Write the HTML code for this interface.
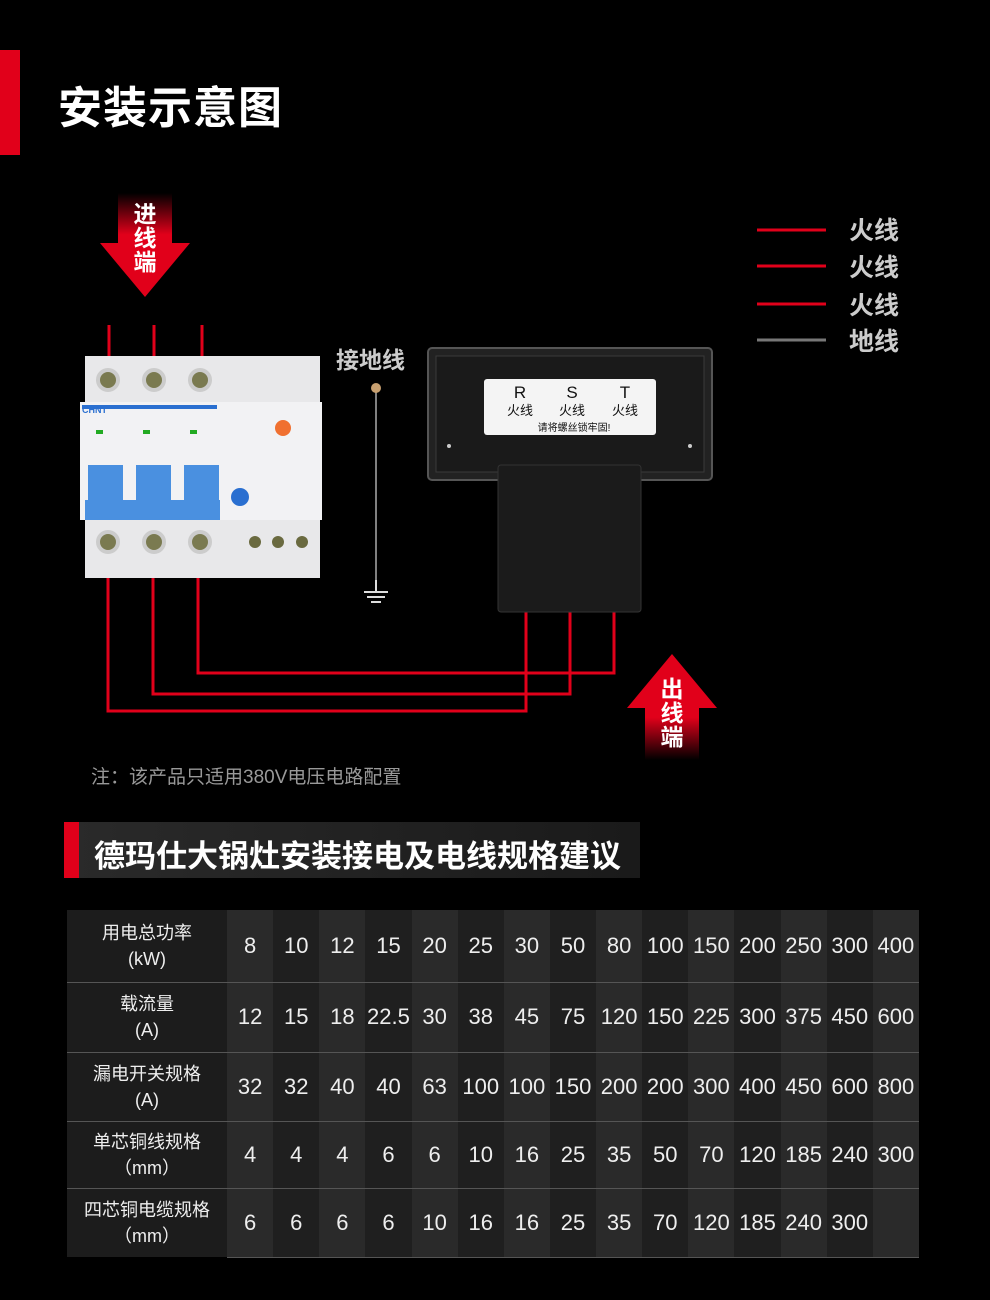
<!DOCTYPE html>
<html><head><meta charset="utf-8"><style>
body{margin:0;width:990px;height:1300px;background:#000;position:relative;overflow:hidden;font-family:"Liberation Sans","Noto Sans CJK SC",sans-serif;color:#fff}
.a{position:absolute}
table{border-collapse:collapse;position:absolute;left:67px;top:910px;width:852px;color:#eee;table-layout:fixed}
td{text-align:center;font-size:22px;padding:0;border-bottom:1px solid #555;white-space:nowrap;overflow:visible}
td.h{font-size:18px;line-height:26px;background:#1c1c1c}
td:nth-child(even){background:#2a2a2a}
td:nth-child(odd):not(.h){background:#1f1f1f}
</style></head><body>
<div class="a" style="left:0;top:50px;width:20px;height:105px;background:#e1001a"></div>
<div class="a" style="left:58px;top:72px;font-size:44px;font-weight:bold;letter-spacing:1px">安装示意图</div>

<svg class="a" style="left:0;top:0" width="990" height="800">
<defs><linearGradient id="g1" x1="0" y1="0" x2="0" y2="1"><stop offset="0" stop-color="#e1001a" stop-opacity="0"/><stop offset="0.4" stop-color="#e1001a"/></linearGradient>
<linearGradient id="g2" x1="0" y1="1" x2="0" y2="0"><stop offset="0" stop-color="#e1001a" stop-opacity="0"/><stop offset="0.4" stop-color="#e1001a"/></linearGradient></defs>
<polygon points="118,193 172,193 172,243 190,243 145,297 100,243 118,243" fill="url(#g1)"/>
<polygon points="645,760 699,760 699,708 717,708 672,654 627,708 645,708" fill="url(#g2)"/>
<g stroke="#e1001a" stroke-width="3" fill="none">
<line x1="109" y1="325" x2="109" y2="356"/><line x1="154" y1="325" x2="154" y2="356"/><line x1="202" y1="325" x2="202" y2="356"/>
<polyline points="108,565 108,711 526,711 526,612"/>
<polyline points="153,565 153,694 570,694 570,612"/>
<polyline points="198,565 198,673 614,673 614,612"/>
<line x1="757" y1="230" x2="826" y2="230"/><line x1="757" y1="266" x2="826" y2="266"/><line x1="757" y1="304" x2="826" y2="304"/>
</g>
<line x1="757" y1="340" x2="826" y2="340" stroke="#777" stroke-width="3"/>
<rect x="85" y="356" width="235" height="222" fill="#e8e8ea"/>
<rect x="80" y="402" width="242" height="118" fill="#f2f2f4"/>
<rect x="82" y="405" width="135" height="4" fill="#2a6fd0"/>
<text x="82" y="413" font-size="9" fill="#2a6fd0" font-weight="bold">CHNT</text>
<g fill="#4a90e0"><rect x="88" y="465" width="35" height="40"/><rect x="136" y="465" width="35" height="40"/><rect x="184" y="465" width="35" height="40"/><rect x="85" y="500" width="135" height="20"/></g>
<g fill="#7a7a50" stroke="#ccc" stroke-width="4"><circle cx="108" cy="380" r="10"/><circle cx="154" cy="380" r="10"/><circle cx="200" cy="380" r="10"/><circle cx="108" cy="542" r="10"/><circle cx="154" cy="542" r="10"/><circle cx="200" cy="542" r="10"/></g>
<g fill="#6a6a40"><circle cx="255" cy="542" r="6"/><circle cx="278" cy="542" r="6"/><circle cx="302" cy="542" r="6"/></g>
<circle cx="240" cy="497" r="9" fill="#2a6fd0"/><circle cx="283" cy="428" r="8" fill="#f07030"/>
<g fill="#2a2"><rect x="96" y="430" width="7" height="4"/><rect x="143" y="430" width="7" height="4"/><rect x="190" y="430" width="7" height="4"/></g>
<line x1="376" y1="388" x2="376" y2="580" stroke="#aaa" stroke-width="1.5"/>
<circle cx="376" cy="388" r="5" fill="#c8a070"/>
<g stroke="#ddd" stroke-width="2"><line x1="364" y1="592" x2="388" y2="592"/><line x1="367" y1="597" x2="385" y2="597"/><line x1="371" y1="602" x2="381" y2="602"/><line x1="376" y1="580" x2="376" y2="592"/></g>
<rect x="428" y="348" width="284" height="132" rx="4" fill="#222" stroke="#555" stroke-width="2"/>
<rect x="436" y="356" width="268" height="116" fill="#1a1a1a" stroke="#3a3a3a"/>
<rect x="498" y="465" width="143" height="147" rx="3" fill="#1b1b1b" stroke="#333"/>
<rect x="484" y="379" width="172" height="56" rx="3" fill="#f4f4f4"/>
<g fill="#111" font-size="17" text-anchor="middle"><text x="520" y="398">R</text><text x="572" y="398">S</text><text x="625" y="398">T</text></g>
<g fill="#111" font-size="13" text-anchor="middle"><text x="520" y="415">火线</text><text x="572" y="415">火线</text><text x="625" y="415">火线</text></g>
<text x="574" y="431" fill="#111" font-size="10" text-anchor="middle">请将螺丝锁牢固!</text>
<circle cx="449" cy="446" r="2" fill="#ccc"/><circle cx="690" cy="446" r="2" fill="#ccc"/>
<g fill="#fff" font-weight="bold" font-size="23" text-anchor="middle"><text x="145" y="222">进</text><text x="145" y="246">线</text><text x="145" y="270">端</text>
<text x="672" y="697">出</text><text x="672" y="721">线</text><text x="672" y="745">端</text></g>
<text x="336" y="368" fill="#ccc" font-size="23" font-weight="bold">接地线</text>
<g fill="#ccc" font-size="25" font-weight="bold"><text x="849" y="239">火线</text><text x="849" y="276">火线</text><text x="849" y="314">火线</text><text x="849" y="350">地线</text></g>
<text x="91" y="783" fill="#999" font-size="19">注：该产品只适用380V电压电路配置</text>
</svg>

<div class="a" style="left:64px;top:822px;width:576px;height:56px;background:linear-gradient(90deg,#2a2a2a,#1a1a1a)"></div>
<div class="a" style="left:64px;top:822px;width:15px;height:56px;background:#e1001a"></div>
<div class="a" style="left:94px;top:831px;font-size:31px;font-weight:bold;color:#fff">德玛仕大锅灶安装接电及电线规格建议</div>

<table>
<colgroup><col style="width:160px"><col span="15" style="width:46.13px"></colgroup>
<tr style="height:72px"><td class="h">用电总功率<br>(kW)</td><td>8</td><td>10</td><td>12</td><td>15</td><td>20</td><td>25</td><td>30</td><td>50</td><td>80</td><td>100</td><td>150</td><td>200</td><td>250</td><td>300</td><td>400</td></tr>
<tr style="height:70px"><td class="h">载流量<br>(A)</td><td>12</td><td>15</td><td>18</td><td>22.5</td><td>30</td><td>38</td><td>45</td><td>75</td><td>120</td><td>150</td><td>225</td><td>300</td><td>375</td><td>450</td><td>600</td></tr>
<tr style="height:69px"><td class="h">漏电开关规格<br>(A)</td><td>32</td><td>32</td><td>40</td><td>40</td><td>63</td><td>100</td><td>100</td><td>150</td><td>200</td><td>200</td><td>300</td><td>400</td><td>450</td><td>600</td><td>800</td></tr>
<tr style="height:67px"><td class="h">单芯铜线规格<br>（mm）</td><td>4</td><td>4</td><td>4</td><td>6</td><td>6</td><td>10</td><td>16</td><td>25</td><td>35</td><td>50</td><td>70</td><td>120</td><td>185</td><td>240</td><td>300</td></tr>
<tr style="height:69px"><td class="h" style="border:none">四芯铜电缆规格<br>（mm）</td><td>6</td><td>6</td><td>6</td><td>6</td><td>10</td><td>16</td><td>16</td><td>25</td><td>35</td><td>70</td><td>120</td><td>185</td><td>240</td><td>300</td><td></td></tr>
</table>
</body></html>
